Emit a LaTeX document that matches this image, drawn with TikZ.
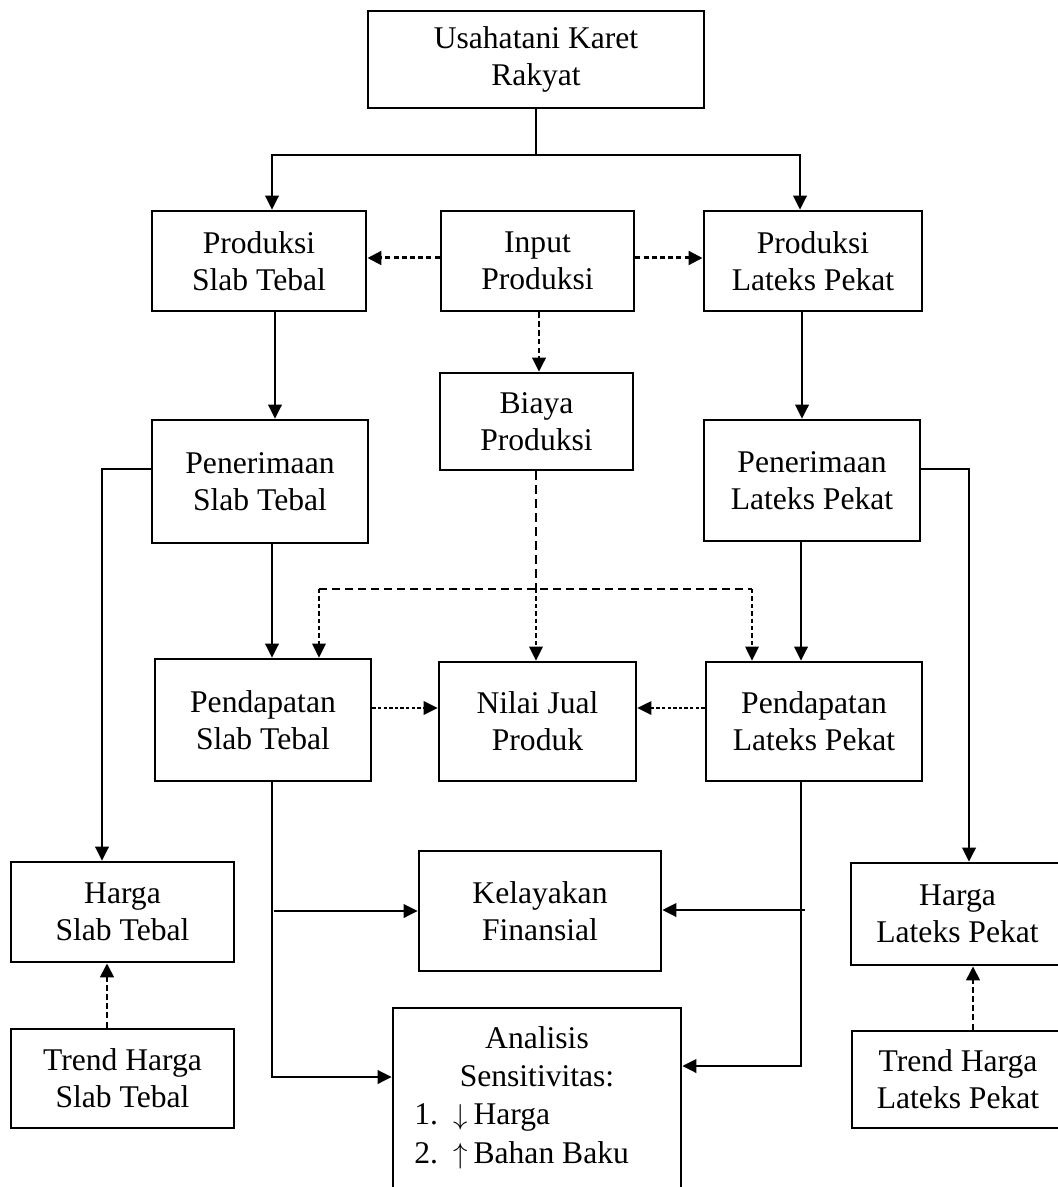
\documentclass[tikz,border=0pt]{standalone}
\usepackage{fontspec}
\setmainfont{Liberation Serif}
\usetikzlibrary{arrows.meta}
\newcommand\mybox[6]{\node[box,minimum width={(#4-#2)*0.5pt},minimum height={(#5-#3)*0.5pt}] (#1) at ({(#2+#4)/2},{(#3+#5)/2}) {#6};}
\begin{document}
\begin{tikzpicture}[x=0.5pt,y=-0.5pt,
  box/.style={draw,line width=1.4pt,inner sep=0pt,align=center,font=\fontsize{15.8}{18.6}\selectfont},
  tip/.style={-{Triangle[length=7pt,width=6.8pt]}},
  ln/.style={line width=1.05pt,tip},
  dthick/.style={line width=1.5pt,dash pattern=on 2.5pt off 1.6pt,tip},
  dmed/.style={line width=1.1pt,dash pattern=on 2.8pt off 1.6pt,tip},
  dlong/.style={line width=1.1pt,dash pattern=on 4.5pt off 2.5pt},
  dhor/.style={line width=1.3pt,dash pattern=on 4pt off 2.5pt},
  dthin/.style={line width=0.6pt,dash pattern=on 2.2pt off 1.5pt,tip},
  ddot/.style={line width=0.6pt,dash pattern=on 1.7pt off 1.1pt,tip},
  dtrend/.style={line width=1.3pt,dash pattern=on 3pt off 1.6pt,tip},
  txt/.style={inner sep=0pt,font=\fontsize{15.8}{18.6}\selectfont}]
\useasboundingbox (0,0) rectangle (1058,1187);
% boxes
\mybox{top}{368}{11}{704}{108}{Usahatani Karet\\Rakyat}
\mybox{pst}{152}{211}{366}{311}{Produksi\\Slab Tebal}
\mybox{inp}{441}{211}{634}{311}{Input\\Produksi}
\mybox{plt}{704}{211}{922}{311}{Produksi\\Lateks Pekat}
\mybox{bia}{440}{373}{633}{470}{Biaya\\Produksi}
\mybox{pnst}{152}{420}{368}{543}{Penerimaan\\Slab Tebal}
\mybox{pnlt}{704}{420}{920}{541}{Penerimaan\\Lateks Pekat}
\mybox{pdst}{155}{659}{371}{781}{Pendapatan\\Slab Tebal}
\mybox{nj}{439}{662}{636}{781}{Nilai Jual\\Produk}
\mybox{pdlt}{706}{662}{922}{781}{Pendapatan\\Lateks Pekat}
\mybox{hst}{11}{862}{234}{962}{Harga\\Slab Tebal}
\mybox{hlt}{851}{863}{1064}{965}{Harga\\Lateks Pekat}
\mybox{kel}{419}{851}{661}{971}{Kelayakan\\Finansial}
\mybox{tst}{11}{1029}{234}{1128}{Trend Harga\\Slab Tebal}
\mybox{tlt}{852}{1031}{1064}{1128}{Trend Harga\\Lateks Pekat}
\mybox{ana}{393}{1008}{681}{1215}{}
\node[txt,anchor=base] (ana1) at (537,1048) {Analisis};
\node[txt,anchor=base] (ana2) at (537,1086) {Sensitivitas:};
\node[txt,anchor=base west] (ana3) at (414,1124) {1.\ \ $\downarrow$\,Harga};
\node[txt,anchor=base west] (ana4) at (414,1163) {2.\ \ $\uparrow$\,Bahan Baku};
% junctions
\coordinate (j1) at (536,155);
\coordinate (jb) at (536,589);
\coordinate (jl) at (319,589);
\coordinate (jr) at (752,589);
\coordinate (kl) at (274,911);
\coordinate (kr) at (805,910);
% connectors
\draw[line width=1.05pt] (top.south) -- (j1);
\draw[ln] (j1) -| (272,0 |- pst.north);
\draw[ln] (j1) -| (800,0 |- plt.north);
\draw[dthick] (inp.west |- 0,258) -- (pst.east |- 0,258);
\draw[dthick] (inp.east |- 0,258) -- (plt.west |- 0,258);
\draw[dmed] (539,0 |- inp.south) -- (539,0 |- bia.north);
\draw[ln] (275,0 |- pst.south) -- (275,0 |- pnst.north);
\draw[ln] (802,0 |- plt.south) -- (802,0 |- pnlt.north);
\draw[ln] (pnst.west |- 0,469) -| (102,0 |- hst.north);
\draw[ln] (pnlt.east |- 0,469) -| (969,0 |- hlt.north);
\draw[dlong] (bia.south -| jb) -- (jb);
\draw[dhor] (jl) -- (jr);
\draw[dthin] (jl) -- (jl |- pdst.north);
\draw[dthin] (jb) -- (jb |- nj.north);
\draw[dthin] (jr) -- (jr |- pdlt.north);
\draw[ln] (272,0 |- pnst.south) -- (272,0 |- pdst.north);
\draw[ln] (801,0 |- pnlt.south) -- (801,0 |- pdlt.north);
\draw[ddot] (pdst.east |- 0,708) -- (nj.west |- 0,708);
\draw[ddot] (pdlt.west |- 0,708) -- (nj.east |- 0,708);
\draw[ln] (272,0 |- pdst.south) |- (ana.west |- 0,1077);
\draw[ln] (kl) -- (kel.west |- kl);
\draw[ln] (801,0 |- pdlt.south) |- (ana.east |- 0,1066);
\draw[ln] (kr) -- (kel.east |- kr);
\draw[dtrend] (107,0 |- tst.north) -- (107,0 |- hst.south);
\draw[dtrend] (973,0 |- tlt.north) -- (973,0 |- hlt.south);
\end{tikzpicture}
\end{document}
